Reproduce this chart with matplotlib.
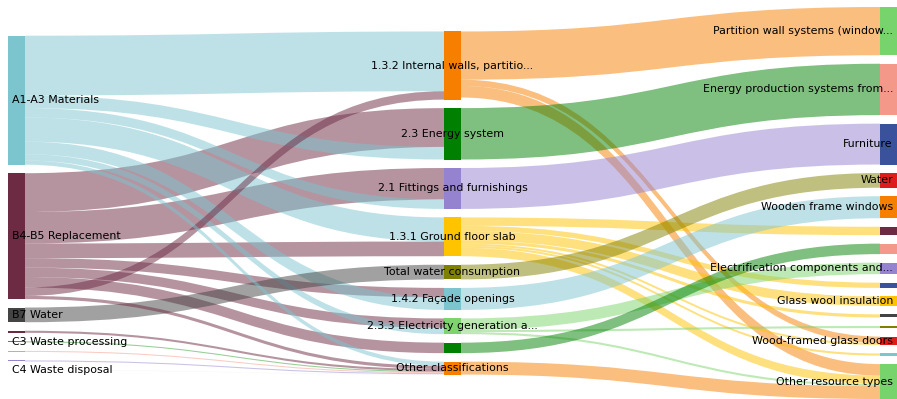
import matplotlib.pyplot as plt
from matplotlib.path import Path
from matplotlib.patches import PathPatch, Rectangle

# ---- nodes, one list per column (ids, shown labels, colours)
left_ids = ["A1-A3", "B4-B5", "B7", "L4", "C3", "L6", "L7", "C4"]
left_labels = ["A1-A3 Materials", "B4-B5 Replacement", "B7 Water", "",
               "C3 Waste processing", "", "", "C4 Waste disposal"]
left_colors = ["#7cc5cf", "#6d2b43", "#444444", "#6d2b43",
               "#2e9e2e", "#f4998a", "#9683d0", "#e6e6ee"]

mid_ids = ["1.3.2", "2.3", "2.1", "1.3.1", "TW", "1.4.2", "2.3.3", "M8", "OC"]
mid_labels = ["1.3.2 Internal walls, partitio...", "2.3 Energy system",
              "2.1 Fittings and furnishings", "1.3.1 Ground floor slab",
              "Total water consumption", "1.4.2 Façade openings",
              "2.3.3 Electricity generation a...", "", "Other classifications"]
mid_colors = ["#f77f00", "#008000", "#9683d0", "#ffc300", "#808000",
              "#7cc5cf", "#7dd46c", "#008000", "#f77f00"]

right_ids = ["R1", "R2", "R3", "R4", "R5", "R6", "R7", "R8",
             "R9", "R10", "R11", "R12", "R13", "R14", "R15"]
right_labels = ["Partition wall systems (window...", "Energy production systems from...",
                "Furniture", "Water", "Wooden frame windows", "", "",
                "Electrification components and...", "", "Glass wool insulation",
                "", "", "Wood-framed glass doors", "", "Other resource types"]
right_colors = ["#77d46c", "#f4998a", "#3a519b", "#dd1c1c", "#f77f00", "#6d2b43",
                "#f4998a", "#9683d0", "#3a519b", "#ffc300", "#444444", "#808000",
                "#dd1c1c", "#7cc5cf", "#77d46c"]

# ---- flows (stacked at both ends in list order)
link_src = ["B4-B5", "A1-A3", "B4-B5", "A1-A3", "A1-A3", "A1-A3", "B4-B5", "B4-B5",
            "A1-A3", "B4-B5", "A1-A3", "B4-B5", "B4-B5", "B7", "A1-A3", "B4-B5",
            "L4", "C3", "L6", "L7", "C4",
            "1.3.2", "1.3.2", "1.3.2", "2.3", "2.1",
            "1.3.1", "1.3.1", "1.3.1", "1.3.1", "1.3.1", "1.3.1", "1.3.1",
            "TW", "1.4.2", "2.3.3", "2.3.3", "2.3.3", "M8", "OC"]
link_dst = ["2.3", "1.3.2", "2.1", "2.3", "2.1", "1.3.1", "1.3.1", "1.4.2",
            "1.4.2", "2.3.3", "2.3.3", "M8", "1.3.2", "TW", "OC", "OC",
            "OC", "OC", "OC", "OC", "OC",
            "R1", "R13", "R15", "R2", "R3",
            "R6", "R9", "R10", "R11", "R13", "R14", "R15",
            "R4", "R5", "R8", "R12", "R15", "R7", "R15"]
link_val = [37, 57, 30, 12, 9, 23, 14, 9,
            12, 9, 6, 10, 8, 14, 4, 3,
            2, 1, 1, 1, 0.3,
            46, 6, 11, 49, 39,
            8, 5, 9, 3, 2, 2, 8,
            14, 21, 11, 2, 2, 10, 12.3]

W, H = 897, 399
columns = [left_ids, mid_ids, right_ids]
col_x = [8, 444, 880]
node_w = 17
gap = 8.5
top, bottom = 7, 399

colors = dict(zip(left_ids + mid_ids + right_ids, left_colors + mid_colors + right_colors))
labels = dict(zip(left_ids + mid_ids + right_ids, left_labels + mid_labels + right_labels))

inflow, outflow = {}, {}
for s, d, v in zip(link_src, link_dst, link_val):
    outflow[s] = outflow.get(s, 0) + v
    inflow[d] = inflow.get(d, 0) + v
value = {n: max(inflow.get(n, 0), outflow.get(n, 0)) for c in columns for n in c}

k = min((bottom - top - (len(c) - 1) * gap) / sum(value[n] for n in c) for c in columns)
pos = {}
for ci, c in enumerate(columns):
    span = sum(value[n] for n in c) * k + gap * (len(c) - 1)
    y = (top + bottom) / 2 - span / 2
    for n in c:
        pos[n] = (col_x[ci], y, value[n] * k)
        y += value[n] * k + gap

fig = plt.figure(figsize=(W / 100, H / 100), dpi=100)
ax = fig.add_axes([0, 0, 1, 1])
ax.set_xlim(0, W)
ax.set_ylim(H, 0)
ax.axis("off")

out_off = {n: pos[n][1] for n in pos}
in_off = {n: pos[n][1] for n in pos}
for s, d, v in zip(link_src, link_dst, link_val):
    w = v * k
    x0 = pos[s][0] + node_w
    x1 = pos[d][0]
    ys, yt = out_off[s], in_off[d]
    out_off[s] += w
    in_off[d] += w
    xm = (x0 + x1) / 2
    verts = [(x0, ys), (xm, ys), (xm, yt), (x1, yt),
             (x1, yt + w), (xm, yt + w), (xm, ys + w), (x0, ys + w), (x0, ys)]
    codes = [Path.MOVETO, Path.CURVE4, Path.CURVE4, Path.CURVE4,
             Path.LINETO, Path.CURVE4, Path.CURVE4, Path.CURVE4, Path.CLOSEPOLY]
    ax.add_patch(PathPatch(Path(verts, codes), facecolor=colors[s], alpha=0.5,
                           lw=0, zorder=1))

for ci, c in enumerate(columns):
    for n in c:
        x, y, h = pos[n]
        ax.add_patch(Rectangle((x, y), node_w, h, facecolor=colors[n], lw=0, zorder=2))
        if not labels[n]:
            continue
        if ci == 0:
            ax.text(x + 4, y + h / 2, labels[n], ha="left", va="center",
                    fontsize=7.9, color="black", zorder=3)
        elif ci == 1:
            ax.text(x + node_w / 2, y + h / 2, labels[n], ha="center", va="center",
                    fontsize=7.9, color="black", zorder=3)
        else:
            ax.text(x + node_w - 4, y + h / 2, labels[n], ha="right", va="center",
                    fontsize=7.9, color="black", zorder=3)

fig.savefig("out.png", dpi=100)
